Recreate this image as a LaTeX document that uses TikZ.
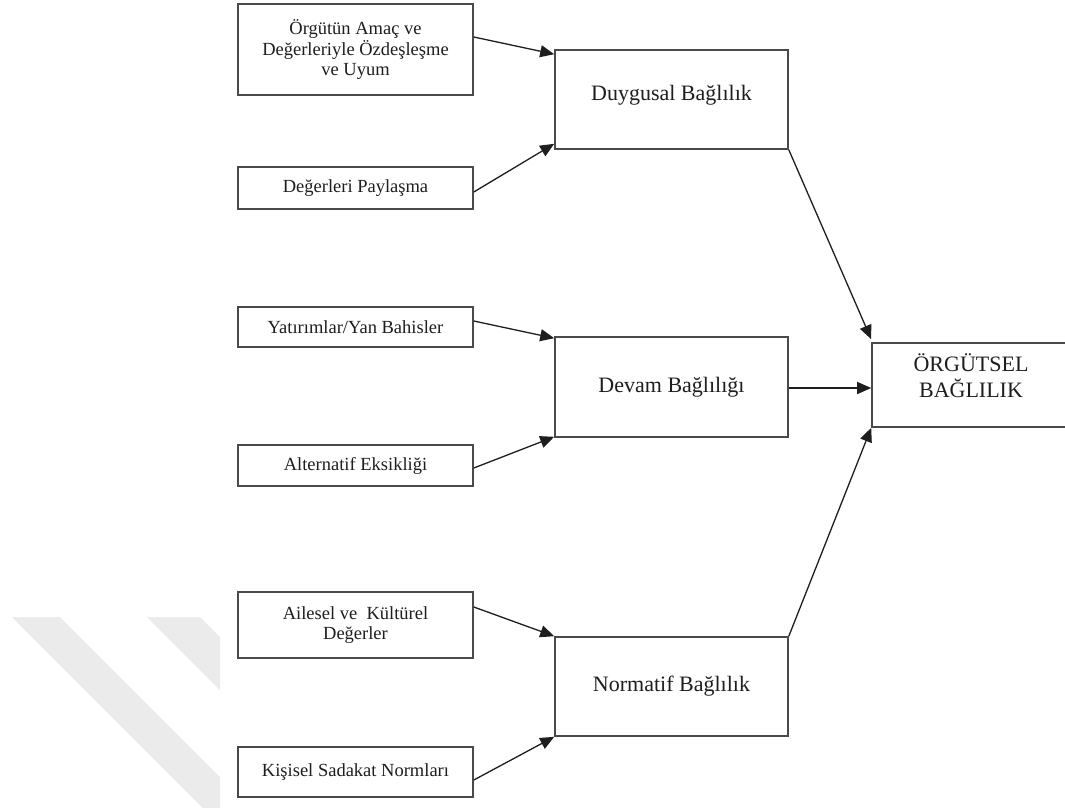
\documentclass[tikz,border=0pt]{standalone}
\usepackage{fontspec}
\setmainfont{Liberation Serif}
\usetikzlibrary{arrows.meta,calc}

\definecolor{edgegray}{HTML}{4A4A4A}
\definecolor{inkgray}{HTML}{1E1E1E}
\definecolor{markgray}{HTML}{EBEBEB}

\tikzset{
  srcbox/.style={draw=edgegray, line width=1.6pt, fill=white, inner sep=0pt,
    minimum width=235pt, align=center, text=inkgray,
    font=\fontsize{18.5}{20.5}\selectfont},
  dimbox/.style={draw=edgegray, line width=1.6pt, fill=white, inner sep=0pt,
    minimum width=233pt, minimum height=99pt, align=center, text=inkgray,
    font=\fontsize{22}{26}\selectfont},
  link/.style={draw=inkgray, line width=1.3pt,
    -{Triangle[length=14pt,width=12pt]}},
}

\begin{document}
\begin{tikzpicture}[x=1pt,y=-1pt]
  \clip (0,0) rectangle (1065,807);
  \fill[white] (0,0) rectangle (1065,807);

  % faint diagonal bands in the lower left corner
  \begin{scope}
    \clip (0,0) rectangle (220,807);
    \fill[markgray] (12,617) -- (60,617) -- (360,917) -- (312,917) -- cycle;
    \fill[markgray] (147,617) -- (200,617) -- (500,917) -- (447,917) -- cycle;
  \end{scope}

  % source factors
  \node[srcbox, minimum height=91pt] (b1) at (355.5,49.5)
    {Örgütün Amaç ve\\Değerleriyle Özdeşleşme\\ve Uyum};
  \node[srcbox, minimum height=42pt] (b2) at (355.5,188) {Değerleri Paylaşma};
  \node[srcbox, minimum height=40pt] (b3) at (355.5,327) {Yatırımlar/Yan Bahisler};
  \node[srcbox, minimum height=41pt] (b4) at (355.5,465.5) {Alternatif Eksikliği};
  \node[srcbox, minimum height=66pt] (b5) at (355.5,625)
    {Ailesel ve\ \ Kültürel\\Değerler};
  \node[srcbox, minimum height=50pt] (b6) at (355.5,772) {Kişisel Sadakat Normları};

  % commitment dimensions
  \node[dimbox] (duy) at (671.5,99.5) {Duygusal Bağlılık\\[-13pt]};
  \node[dimbox, minimum height=100pt] (dev) at (671.5,387) {Devam Bağlılığı};
  \node[dimbox] (nor) at (671.5,686.5) {Normatif Bağlılık};

  % overall commitment
  \node[dimbox, minimum width=198pt, minimum height=84pt] (org) at (971,385)
    {ÖRGÜTSEL\\BAĞLILIK\\[-8pt]};

  % factor -> dimension links
  \draw[link] ($(b1.east)+(0,-12.5)$) -- ($(duy.north west)+(0,5)$);
  \draw[link] ($(b2.east)+(0,4)$) -- ($(duy.south west)+(0,-6)$);
  \draw[link] ($(b3.east)+(0,-6)$) -- ($(dev.north west)+(0,2)$);
  \draw[link] ($(b4.east)+(0,2.5)$) -- ($(dev.south west)+(0,-1)$);
  \draw[link] ($(b5.east)+(0,-18)$) -- (nor.north west);
  \draw[link] ($(b6.east)+(0,8)$) -- (nor.south west);

  % dimension -> overall links
  \coordinate (devout) at ($(dev.east)+(0,1)$);
  \draw[link] (duy.south east) -- ($(org.north west)+(0,-3)$);
  \draw[link] (devout) -- (devout -| org.west);
  \draw[link] (nor.north east) -- (org.south west);
\end{tikzpicture}
\end{document}
